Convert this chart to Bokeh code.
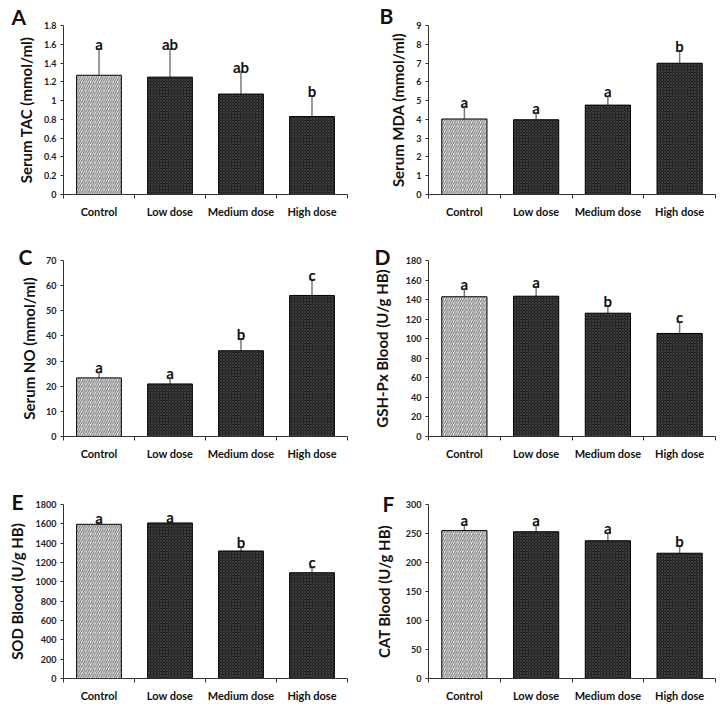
from bokeh.plotting import figure
from bokeh.layouts import gridplot
from bokeh.models import ColumnDataSource, Range1d, FixedTicker, Whisker, TeeHead, Label
from bokeh.core.properties import value
from bokeh.embed import file_html
from bokeh.resources import INLINE

groups = ["Control", "Low dose", "Medium dose", "High dose"]

tac_mean = [1.27, 1.25, 1.07, 0.83]
tac_err = [0.28, 0.30, 0.24, 0.22]
tac_sig = ["a", "ab", "ab", "b"]

mda_mean = [4.02, 3.98, 4.76, 6.99]
mda_err = [0.66, 0.36, 0.46, 0.66]
mda_sig = ["a", "a", "a", "b"]

no_mean = [23.3, 20.9, 34.1, 56.1]
no_err = [2.2, 2.3, 4.6, 6.3]
no_sig = ["a", "a", "b", "c"]

gsh_mean = [142.9, 143.5, 126.1, 105.4]
gsh_err = [7.8, 9.6, 7.6, 11.5]
gsh_sig = ["a", "a", "b", "c"]

sod_mean = [1595, 1609, 1319, 1094]
sod_err = [18, 11, 38, 55]
sod_sig = ["a", "a", "b", "c"]

cat_mean = [255, 253, 237.5, 216]
cat_err = [10, 11, 13, 12.4]
cat_sig = ["a", "a", "a", "b"]

FONT = "Lato"


def fmt(v):
    s = ("%.6f" % v).rstrip("0").rstrip(".")
    return s if s else "0"


def make_panel(letter, ylabel, means, errs, sigs, ymax, ystep,
               w, h, bl, br, bt, bb, label_x, label_y, lab_standoff):
    n = len(groups)
    xs = [i + 0.5 for i in range(n)]
    src = ColumnDataSource(dict(
        x=xs, y=means, upper=[m + e for m, e in zip(means, errs)],
        sig=sigs,
        fill=["#ffffff"] + ["#1e1e1e"] * (n - 1),
        hatch=["/"] + ["x"] * (n - 1),
        hcol=["#707070"] + ["#4c4c4c"] * (n - 1),
        hw=[1.2] + [0.7] * (n - 1),
        hs=[4.5] + [3] * (n - 1),
    ))
    p = figure(width=w, height=h, output_backend="svg", toolbar_location=None,
               x_range=Range1d(0, n), y_range=Range1d(0, ymax),
               min_border_left=bl, min_border_right=br,
               min_border_top=bt, min_border_bottom=bb, title=None)
    p.outline_line_color = None
    p.grid.visible = False
    p.vbar(x="x", top="y", width=0.63, bottom=0, source=src,
           fill_color="fill", line_color="black", line_width=1,
           hatch_pattern="hatch", hatch_color="hcol", hatch_scale="hs",
           hatch_weight="hw")
    wh = Whisker(base="x", lower="y", upper="upper", source=src,
                 dimension="height", line_color="#7a7a7a", line_width=1.5,
                 upper_head=TeeHead(size=6, line_color="#7a7a7a", line_width=1.5),
                 lower_head=None)
    p.add_layout(wh)
    p.text(x="x", y="upper", text="sig", source=src, text_font=value(FONT),
           text_font_style="bold", text_font_size="15px", text_align="center",
           text_baseline="alphabetic", y_offset=-5, text_color="#111111")

    # x axis
    xa = p.xaxis[0]
    xa.ticker = FixedTicker(ticks=xs, minor_ticks=list(range(n + 1)))
    xa.major_label_overrides = {x: g for x, g in zip(xs, groups)}
    xa.major_tick_out = 0
    xa.major_tick_in = 0
    xa.minor_tick_out = 4
    xa.minor_tick_in = 0
    xa.minor_tick_line_color = "#333333"
    xa.axis_line_color = "#333333"
    xa.major_label_text_font = FONT
    xa.major_label_text_font_style = "bold"
    xa.major_label_text_font_size = "11px"
    xa.major_label_text_color = "#111111"
    xa.major_label_standoff = 6

    # y axis
    ticks = [round(i * ystep, 6) for i in range(int(round(ymax / ystep)) + 1)]
    ya = p.yaxis[0]
    ya.ticker = FixedTicker(ticks=ticks)
    ya.major_label_overrides = {t: fmt(t) for t in ticks}
    ya.minor_tick_line_color = None
    ya.major_tick_out = 3
    ya.major_tick_in = 0
    ya.major_tick_line_color = "#333333"
    ya.axis_line_color = "#333333"
    ya.major_label_text_font = FONT
    ya.major_label_text_font_style = "bold"
    ya.major_label_text_font_size = "9px"
    ya.major_label_text_color = "#222222"
    ya.major_label_standoff = 4
    ya.axis_label = ylabel
    ya.axis_label_text_font = FONT
    ya.axis_label_text_font_style = "bold"
    ya.axis_label_text_font_size = "15px"
    ya.axis_label_text_color = "#111111"
    ya.axis_label_standoff = lab_standoff

    # panel letter in the "above" side panel (not clipped to the frame)
    p.add_layout(Label(x=label_x, y=label_y, x_units="screen", y_units="screen",
                       text=letter, text_font=FONT, text_font_style="bold",
                       text_font_size="21px", text_baseline="alphabetic",
                       text_color="#111111"), "above")
    return p


# figures tile the 726x704 page: columns 0-363 / 363-726, rows 0-235 / 235-470 / 470-704
pA = make_panel("A", "Serum TAC (mmol/ml)", tac_mean, tac_err, tac_sig, 1.8, 0.2,
                363, 235, 57, 14, 19, 41, -52, 9, 6)
pB = make_panel("B", "Serum MDA (mmol/ml)", mda_mean, mda_err, mda_sig, 9, 1,
                363, 235, 57, 11, 20, 38, -49, 10, 6)
pC = make_panel("C", "Serum NO (mmol/ml)", no_mean, no_err, no_sig, 70, 10,
                363, 235, 52, 16, 25, 34, -45, 4, 5)
pD = make_panel("D", "GSH-Px Blood (U/g HB)", gsh_mean, gsh_err, gsh_sig, 180, 20,
                363, 235, 65, 9, 25, 34, -54, 4, 12)
pE = make_panel("E", "SOD Blood (U/g HB)", sod_mean, sod_err, sod_sig, 1800, 200,
                363, 234, 63, 15, 34, 24, -52, 3, 7)
pF = make_panel("F", "CAT Blood (U/g HB)", cat_mean, cat_err, cat_sig, 300, 50,
                363, 234, 65, 9, 34, 24, -46, 1, 10)

grid = gridplot([[pA, pB], [pC, pD], [pE, pF]], toolbar_location=None)
open("out.html", "w").write(file_html(grid, INLINE))
